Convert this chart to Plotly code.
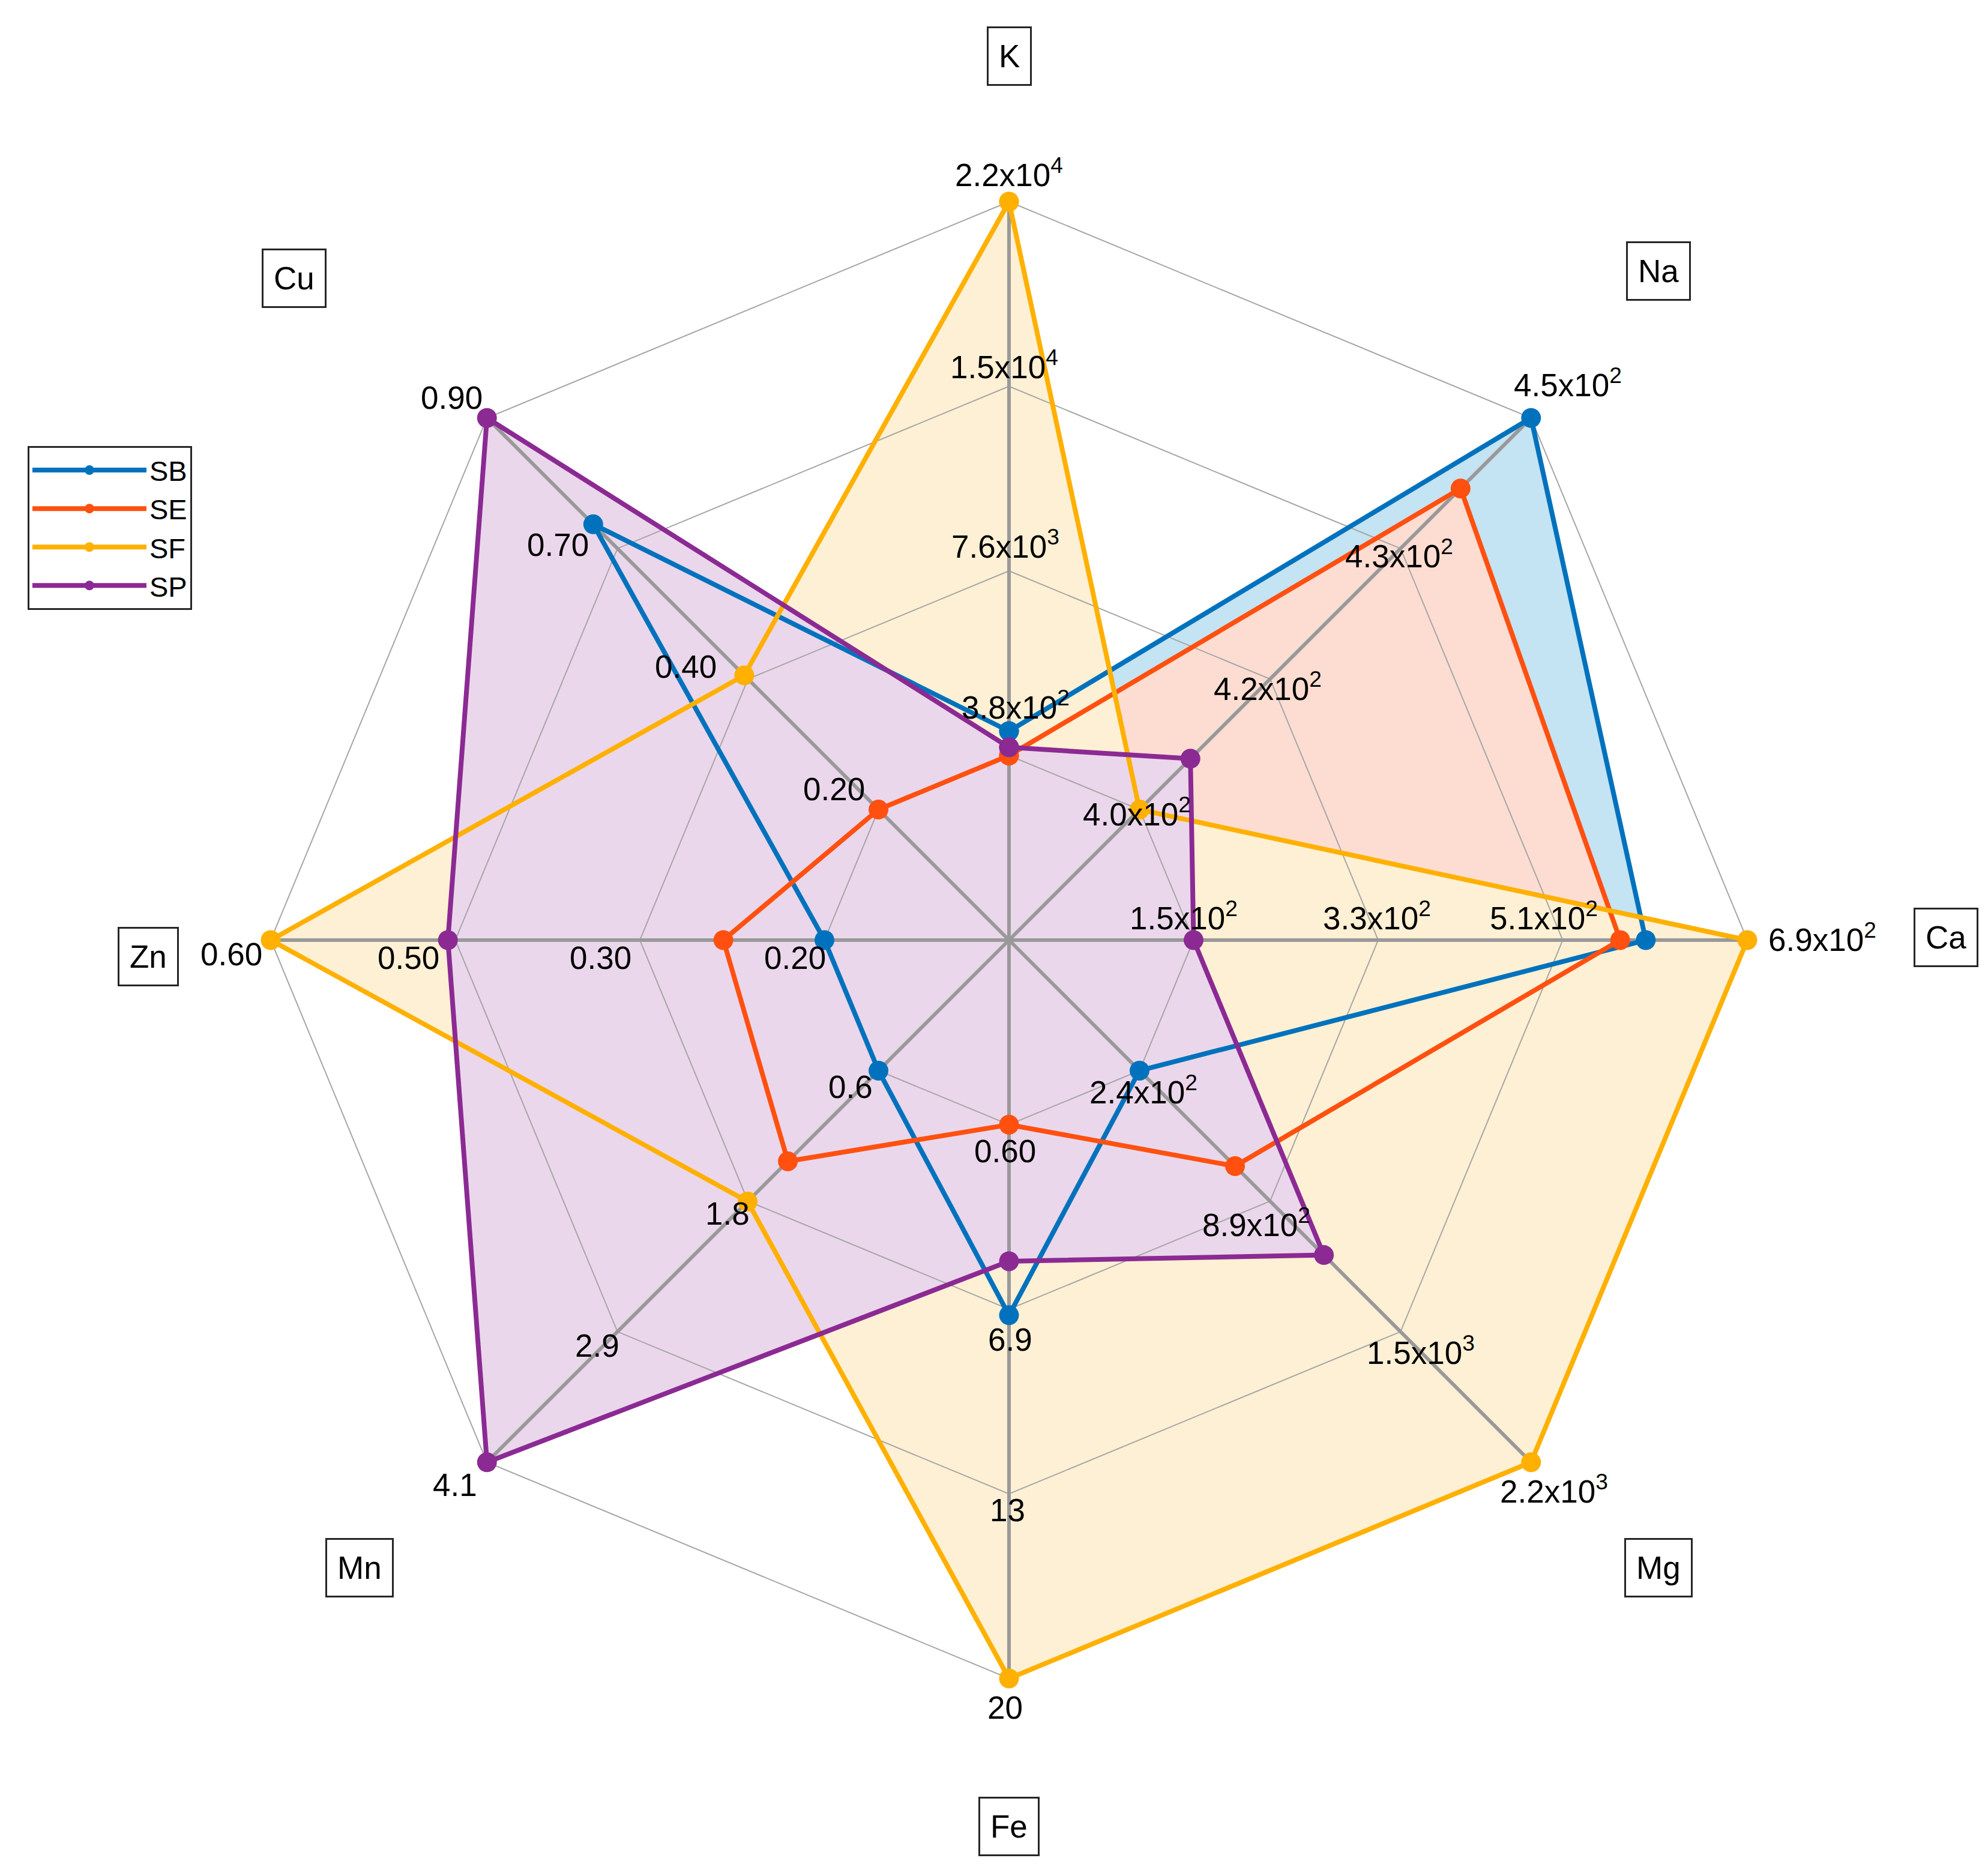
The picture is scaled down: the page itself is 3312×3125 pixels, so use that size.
import numpy as np
import plotly.graph_objects as go

# axes, clockwise from top
categories = ['K', 'Na', 'Ca', 'Mg', 'Fe', 'Mn', 'Zn', 'Cu']
angles_deg = [90, 45, 0, -45, -90, -135, 180, 135]

series_names = ['SB', 'SE', 'SF', 'SP']
SB = [1330, 450, 591, 240, 7.1, 0.60, 0.20, 0.71]
SE = [380, 441, 566, 718, 0.60, 1.41, 0.273, 0.20]
SF = [22000, 400, 690, 2200, 19.5, 1.77, 0.60, 0.44]
SP = [700, 406.5, 150, 1163, 5.26, 4.1, 0.472, 0.90]

# tick labels on the 4 rings of each axis (inner -> outer)
tick_labels = [
    ['3.8x10<sup>2</sup>', '7.6x10<sup>3</sup>', '1.5x10<sup>4</sup>', '2.2x10<sup>4</sup>'],
    ['4.0x10<sup>2</sup>', '4.2x10<sup>2</sup>', '4.3x10<sup>2</sup>', '4.5x10<sup>2</sup>'],
    ['1.5x10<sup>2</sup>', '3.3x10<sup>2</sup>', '5.1x10<sup>2</sup>', '6.9x10<sup>2</sup>'],
    ['2.4x10<sup>2</sup>', '8.9x10<sup>2</sup>', '1.5x10<sup>3</sup>', '2.2x10<sup>3</sup>'],
    ['0.60', '6.9', '13', '20'],
    ['0.6', '1.8', '2.9', '4.1'],
    ['0.20', '0.30', '0.50', '0.60'],
    ['0.20', '0.40', '0.70', '0.90'],
]

line_colors = ['#0072BD', '#FF5010', '#FFB000', '#8B2A93']
fill_colors = ['#C4E3F3', '#FDDDD2', '#FEF0D4', '#EBD7EB']

# layout helpers (pixel offsets of tick labels from ring vertex, per axis/ring)
tick_shift = [
    [(5, -40), (-3, -21), (-4, -17), (0, -23)],
    [(-2, 2), (-2, 6), (-1, 4), (29, -28)],
    [(-8, -19), (-1, -19), (-15, -19), (59, -2)],
    [(3, 15), (-11, 17), (16, 15), (18, 21)],
    [(-3, 21), (1, 24), (-1, 13), (-3, 23)],
    [(-22, 13), (-16, 10), (-16, 11), (-25, 18)],
    [(-23, 14), (-31, 14), (-37, 14), (-31, 11)],
    [(-35, -16), (-49, -10), (-47, -3), (-28, -16)],
]
label_pos = [(0, 1.197), (0.880, 0.906), (1.269, 0.004), (0.880, -0.850),
             (0, -1.20), (-0.880, -0.850), (-1.166, -0.022), (-0.968, 0.896)]

W, H = 3312, 3125
CX, CY, R = 1673, 1558, 1230
SC = 3312 / 1568
FONT = 'Liberation Sans, Arial, sans-serif'

data = np.array([SB, SE, SF, SP], dtype=float)
vmin = data.min(axis=0)
vmax = data.max(axis=0)
th = np.radians(angles_deg)


def norm(vals):
    v = np.asarray(vals, dtype=float)
    return 0.25 + 0.75 * (v - vmin) / (vmax - vmin)


def xy(r):
    r = np.asarray(r, dtype=float)
    x = r * np.cos(th)
    y = r * np.sin(th)
    return list(x) + [x[0]], list(y) + [y[0]]


fig = go.Figure()

# fills
for vals, fc in zip(data, fill_colors):
    x, y = xy(norm(vals))
    fig.add_trace(go.Scatter(x=x, y=y, mode='lines', fill='toself', fillcolor=fc,
                             line=dict(width=0), showlegend=False, hoverinfo='skip'))

# rings
rx, ry = [], []
for lev in [0.25, 0.5, 0.75, 1.0]:
    x, y = xy(np.full(8, lev))
    rx += x + [None]
    ry += y + [None]
fig.add_trace(go.Scatter(x=rx, y=ry, mode='lines', line=dict(color='#A6A6A6', width=2),
                         showlegend=False, hoverinfo='skip'))

# spokes
sx, sy = [], []
for t in th:
    sx += [0, np.cos(t), None]
    sy += [0, np.sin(t), None]
fig.add_trace(go.Scatter(x=sx, y=sy, mode='lines', line=dict(color='#999999', width=6),
                         showlegend=False, hoverinfo='skip'))

# series lines
for name, vals, lc in zip(series_names, data, line_colors):
    x, y = xy(norm(vals))
    fig.add_trace(go.Scatter(x=x, y=y, mode='lines+markers', name=name,
                             line=dict(color=lc, width=8),
                             marker=dict(color=lc, size=33)))

annotations = []
for i in range(8):
    for k, lev in enumerate([0.25, 0.5, 0.75, 1.0]):
        dx, dy = tick_shift[i][k]
        annotations.append(dict(
            x=lev * np.cos(th[i]), y=lev * np.sin(th[i]), text=tick_labels[i][k],
            showarrow=False, xshift=dx * SC, yshift=-dy * SC,
            font=dict(family=FONT, size=53, color='black')))
    lx, ly = label_pos[i]
    annotations.append(dict(
        x=lx, y=ly, text=categories[i], showarrow=False,
        font=dict(family=FONT, size=53, color='black'),
        bordercolor='#262626', borderwidth=3, borderpad=17, bgcolor='white'))

fig.update_layout(
    width=W, height=H,
    margin=dict(l=0, r=0, t=0, b=0),
    paper_bgcolor='white', plot_bgcolor='white',
    xaxis=dict(range=[-CX / R, (W - CX) / R], visible=False, fixedrange=True),
    yaxis=dict(range=[-(H - CY) / R, CY / R], visible=False, fixedrange=True),
    annotations=annotations,
    showlegend=True,
    legend=dict(x=38 / W, y=1 - 735 / H, xanchor='left', yanchor='top',
                bgcolor='white', bordercolor='#262626', borderwidth=3,
                font=dict(family=FONT, size=47, color='black'),
                itemwidth=190, tracegroupgap=0),
)

fig.write_html("out.html")
